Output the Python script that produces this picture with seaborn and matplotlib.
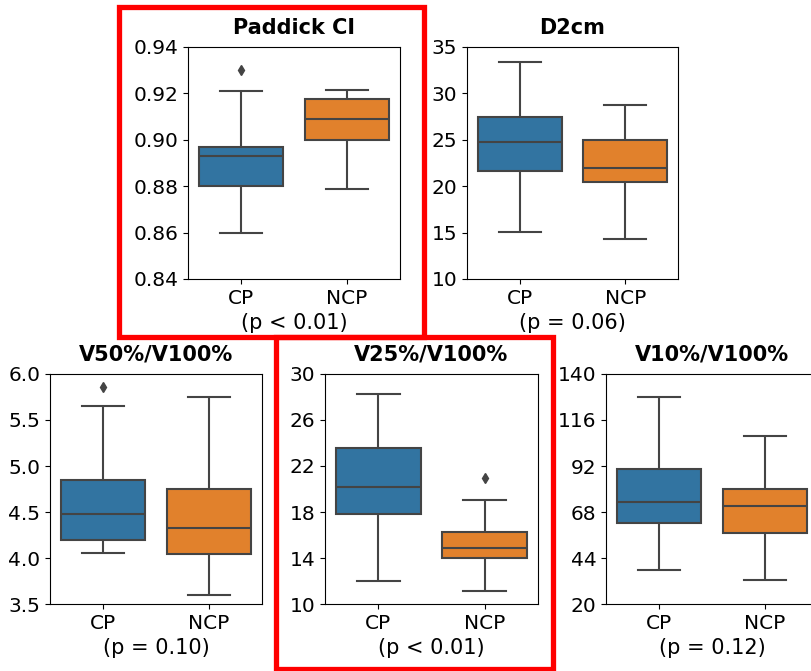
import numpy as np
import pandas as pd
import matplotlib
matplotlib.use('Agg')
import matplotlib.pyplot as plt
from matplotlib.patches import Rectangle
import seaborn as sns

groups = ['CP', 'NCP']

# values per group, picked so the boxes match the figure
paddick_cp = [0.860, 0.872, 0.880, 0.886, 0.893, 0.895, 0.897, 0.921, 0.930]
paddick_ncp = [0.879, 0.893, 0.900, 0.905, 0.909, 0.913, 0.9175, 0.919, 0.9215]
d2cm_cp = [15.1, 19.0, 21.6, 23.4, 24.8, 26.0, 27.5, 30.5, 33.4]
d2cm_ncp = [14.3, 18.2, 20.4, 21.2, 22.0, 23.6, 25.0, 26.8, 28.7]
v50_cp = [4.05, 4.12, 4.20, 4.35, 4.48, 4.66, 4.85, 5.65, 5.86]
v50_ncp = [3.60, 3.85, 4.04, 4.20, 4.33, 4.55, 4.75, 5.20, 5.75]
v25_cp = [12.0, 15.5, 17.8, 19.0, 20.2, 22.0, 23.55, 26.0, 28.3]
v25_ncp = [11.1, 13.0, 13.97, 14.4, 14.83, 15.5, 16.25, 19.0, 20.97]
v10_cp = [37.5, 52.0, 62.5, 68.0, 73.0, 82.0, 90.2, 110.0, 127.8]
v10_ncp = [32.5, 46.0, 57.3, 64.0, 71.2, 76.0, 79.9, 95.0, 107.4]

titles = ['Paddick CI', 'D2cm', 'V50%/V100%', 'V25%/V100%', 'V10%/V100%']
pvals = ['(p < 0.01)', '(p = 0.06)', '(p = 0.10)', '(p < 0.01)', '(p = 0.12)']
ylims = [(0.84, 0.94), (10, 35), (3.5, 6.0), (10, 30), (20, 140)]
yfmt = ['{:.2f}', '{:.0f}', '{:.1f}', '{:.0f}', '{:.0f}']
series = [(paddick_cp, paddick_ncp), (d2cm_cp, d2cm_ncp), (v50_cp, v50_ncp),
          (v25_cp, v25_ncp), (v10_cp, v10_ncp)]

plt.rcParams['font.size'] = 14.5

fig = plt.figure(figsize=(8.12, 6.71), dpi=100)
W, H = 812, 671
# axes boxes in pixels: left, top, width, height
boxes = [(188, 47, 212, 232), (467, 47, 211, 232),
         (50, 374, 212, 230), (325, 374, 213, 230), (606, 374, 212, 230)]

for i in range(5):
    l, t, w, h = boxes[i]
    ax = fig.add_axes([l / W, (H - t - h) / H, w / W, h / H])
    cp, ncp = series[i]
    df = pd.DataFrame({'group': ['CP'] * len(cp) + ['NCP'] * len(ncp),
                       'value': cp + ncp})
    sns.boxplot(data=df, x='group', y='value', hue='group', order=groups,
                palette=['#1f77b4', '#ff7f0e'], saturation=0.75, legend=False,
                linecolor='#444444', linewidth=1.5, width=0.8,
                flierprops=dict(marker='d', markerfacecolor='#444444',
                                markeredgecolor='#444444', markersize=5), ax=ax)
    lo, hi = ylims[i]
    ticks = np.linspace(lo, hi, 6)
    ax.set_ylim(lo, hi)
    ax.set_yticks(ticks)
    ax.set_yticklabels([yfmt[i].format(v) for v in ticks])
    ax.set_ylabel('')
    ax.set_xlabel(pvals[i], fontsize=15)
    ax.set_title(titles[i], fontweight='bold', fontsize=15, pad=9.5)

# red frames around the significant panels
for x0, y0, x1, y1 in [(119, 7, 424, 337), (276, 337, 553, 668.5)]:
    fig.patches.append(Rectangle((x0 / W, (H - y1) / H), (x1 - x0) / W, (y1 - y0) / H,
                                 transform=fig.transFigure, fill=False,
                                 edgecolor='red', linewidth=3.8, zorder=10))

plt.savefig('out.png', dpi=100)
